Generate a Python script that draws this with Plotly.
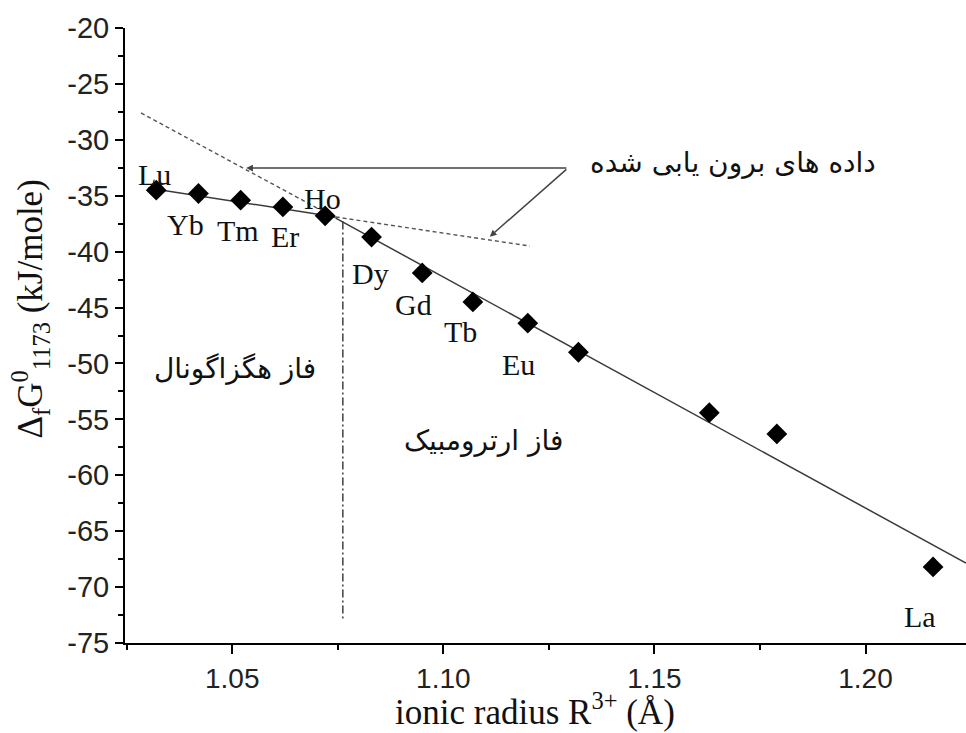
import plotly.graph_objects as go

# ---------------- data ----------------
elements = ["Lu", "Yb", "Tm", "Er", "Ho", "Dy", "Gd", "Tb", "Eu", "", "", "", "La"]
ionic_radius = [1.032, 1.042, 1.052, 1.062, 1.072, 1.083, 1.095, 1.107, 1.120, 1.132, 1.163, 1.179, 1.216]
delta_g = [-34.5, -34.8, -35.4, -36.0, -36.8, -38.7, -41.9, -44.5, -46.4, -49.0, -54.4, -56.3, -68.2]

# fitted lines (hexagonal branch, orthorhombic branch)
fit_hex_x = [1.030, 1.0745]
fit_hex_y = [-34.3, -36.9]
fit_ortho_x = [1.0745, 1.2238]
fit_ortho_y = [-37.0, -67.85]

# extrapolated (dashed) lines
extra_ortho_x = [1.0284, 1.0745]
extra_ortho_y = [-27.6, -37.0]
extra_hex_x = [1.0745, 1.1205]
extra_hex_y = [-36.9, -39.5]

# phase boundary (dash-dot)
boundary_x = [1.0762, 1.0762]
boundary_y = [-37.3, -73.0]

x_range = [1.0246, 1.2238]
y_range = [-75, -20]
x_ticks = [1.05, 1.10, 1.15, 1.20]
x_ticklabels = ["1.05", "1.10", "1.15", "1.20"]
y_ticks = [-75, -70, -65, -60, -55, -50, -45, -40, -35, -30, -25, -20]
y_ticklabels = ["-75", "-70", "-65", "-60", "-55", "-50", "-45", "-40", "-35", "-30", "-25", "-20"]

# annotation arrows: tail and heads
arrow_tail = (1.1295, -32.52)
arrow_heads = [(1.0533, -32.52), (1.1110, -38.66)]

label_offsets = {  # pixel offsets (dx, dy) of element labels from their points
    "Lu": (-2, 16), "Yb": (-13, -31), "Tm": (-3, -30), "Er": (2, -30),
    "Ho": (-3, 17), "Dy": (-1, -36), "Gd": (-9, -32), "Tb": (-12, -30),
    "Eu": (-9, -41), "La": (-13, -50),
}

fig = go.Figure()

line_col = "#3a3a3a"
fig.add_trace(go.Scatter(x=fit_hex_x, y=fit_hex_y, mode="lines",
                         line=dict(color=line_col, width=1.5), hoverinfo="skip"))
fig.add_trace(go.Scatter(x=fit_ortho_x, y=fit_ortho_y, mode="lines",
                         line=dict(color=line_col, width=1.5), hoverinfo="skip"))
fig.add_trace(go.Scatter(x=extra_ortho_x, y=extra_ortho_y, mode="lines",
                         line=dict(color="#555555", width=1.4, dash="4px,3px"), hoverinfo="skip"))
fig.add_trace(go.Scatter(x=extra_hex_x, y=extra_hex_y, mode="lines",
                         line=dict(color="#555555", width=1.4, dash="4px,3px"), hoverinfo="skip"))
fig.add_trace(go.Scatter(x=boundary_x, y=boundary_y, mode="lines",
                         line=dict(color="#333333", width=1.4, dash="8px,3px,2px,3px"), hoverinfo="skip"))
fig.add_trace(go.Scatter(x=ionic_radius, y=delta_g, mode="markers",
                         marker=dict(symbol="diamond", size=16, color="black"),
                         text=elements))

annotations = []
for name, xv, yv in zip(elements, ionic_radius, delta_g):
    if not name:
        continue
    dx, dy = label_offsets[name]
    annotations.append(dict(x=xv, y=yv, xref="x", yref="y", text=name, showarrow=False,
                            xshift=dx, yshift=dy, xanchor="center", yanchor="middle",
                            font=dict(family="Liberation Serif", size=30, color="#111111")))

for hx, hy in arrow_heads:
    annotations.append(dict(x=hx, y=hy, xref="x", yref="y", ax=arrow_tail[0], ay=arrow_tail[1],
                            axref="x", ayref="y", text="", showarrow=True,
                            arrowhead=2, arrowsize=0.9, arrowwidth=1.5, arrowcolor="#444444",
                            standoff=0, startstandoff=0))

persian_font = dict(family="DejaVu Sans", size=28, color="#111111")
annotations.append(dict(x=1.1686, y=-32.07, xref="x", yref="y", text="داده های برون یابی شده",
                        showarrow=False, font=persian_font, xanchor="center", yanchor="middle"))
annotations.append(dict(x=1.0506, y=-50.41, xref="x", yref="y", text="فاز هگزاگونال",
                        showarrow=False, font=persian_font, xanchor="center", yanchor="middle"))
annotations.append(dict(x=1.1094, y=-56.85, xref="x", yref="y", text="فاز ارترومبیک",
                        showarrow=False, font=persian_font, xanchor="center", yanchor="middle"))

# axis titles
annotations.append(dict(x=0.487, y=-0.108, xref="paper", yref="paper",
                        xanchor="center", yanchor="middle",
                        text="ionic radius R<sup>3+</sup> (Å)", showarrow=False,
                        font=dict(family="Liberation Serif", size=35, color="#111111")))
annotations.append(dict(x=-0.113, y=0.544, xref="paper", yref="paper", textangle=-90,
                        xanchor="center", yanchor="middle",
                        text="Δ<sub>f</sub>G<sup>0</sup><sub>1173</sub> (kJ/mole)", showarrow=False,
                        font=dict(family="Liberation Serif", size=35, color="#111111")))

fig.update_layout(
    width=966, height=733,
    margin=dict(l=125, r=0, t=28, b=90),
    paper_bgcolor="white", plot_bgcolor="white",
    showlegend=False,
    annotations=annotations,
    xaxis=dict(range=x_range, tickmode="array", tickvals=x_ticks, ticktext=x_ticklabels,
               ticks="outside", ticklen=9, tickwidth=2, tickcolor="black",
               minor=dict(tickvals=[1.025, 1.075, 1.125, 1.175], ticks="outside",
                          ticklen=5, tickwidth=2, tickcolor="black"),
               showline=True, linewidth=2, linecolor="black", showgrid=False, zeroline=False,
               tickfont=dict(family="Liberation Sans", size=28, color="#222222"),
               automargin=False),
    yaxis=dict(range=y_range, tickmode="array", tickvals=y_ticks, ticktext=y_ticklabels,
               ticks="outside", ticklen=8, tickwidth=2, tickcolor="black",
               minor=dict(tickvals=[v + 2.5 for v in range(-75, -20, 5)], ticks="outside",
                          ticklen=5, tickwidth=2, tickcolor="black"),
               showline=True, linewidth=2, linecolor="black", showgrid=False, zeroline=False,
               tickfont=dict(family="Liberation Sans", size=29, color="#222222"),
               automargin=False),
)

fig.write_html("out.html", config={"displayModeBar": False},
               post_script="document.body.style.margin='0';document.body.style.overflow='hidden';")
